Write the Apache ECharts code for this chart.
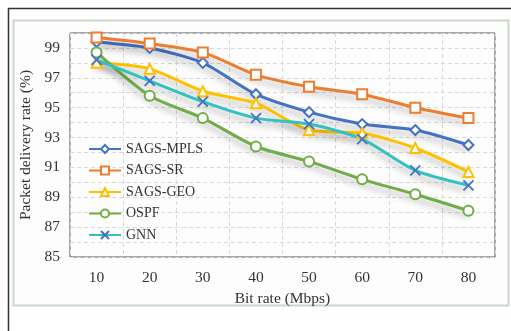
<!DOCTYPE html>
<html><head><meta charset="utf-8">
<script src="https://cdn.jsdelivr.net/npm/echarts@6/dist/echarts.min.js"></script>
<style>html,body{margin:0;padding:0;background:#fff}#c{width:511px;height:331px}</style>
</head><body><div id="c"></div>
<script>
const categories = ['10','20','30','40','50','60','70','80'];
const sagsMpls = [99.4, 99.0, 98.0, 95.9, 94.7, 93.9, 93.5, 92.5];
const sagsSr   = [99.7, 99.3, 98.7, 97.2, 96.4, 95.9, 95.0, 94.3];
const sagsGeo  = [98.0, 97.6, 96.1, 95.3, 93.5, 93.3, 92.3, 90.7];
const ospf     = [98.7, 95.8, 94.3, 92.4, 91.4, 90.2, 89.2, 88.1];
const gnn      = [98.2, 96.8, 95.4, 94.3, 93.9, 92.9, 90.8, 89.8];
const seriesNames = ['SAGS-MPLS','SAGS-SR','SAGS-GEO','OSPF','GNN'];
const xName = 'Bit rate (Mbps)';
const yName = 'Packet delivery rate (%)';

const FONT = '"Liberation Serif", "Times New Roman", serif';
function mk(name, data, color, symbol, markColor) {
  return {
    name, type: 'line', data, smooth: 0.25,
    symbol, symbolSize: 10,
    lineStyle: { color, width: 3, shadowColor: 'rgba(0,0,0,0.28)', shadowBlur: 6, shadowOffsetY: 5 },
    itemStyle: { color: markColor || color, borderColor: markColor || color, borderWidth: 1.8 },
    z: 3
  };
}
const chart = echarts.init(document.getElementById('c'), null, {renderer: 'canvas'});
chart.setOption({
  animation: false,
  backgroundColor: '#fff',
  graphic: [
    { type: 'line', shape: {x1: 8, y1: 8.5, x2: 511, y2: 8.5}, style: {stroke: '#333', lineWidth: 1.5}, z: -10 },
    { type: 'line', shape: {x1: 8.5, y1: 8, x2: 8.5, y2: 331}, style: {stroke: '#333', lineWidth: 1.5}, z: -10 },
    { type: 'rect', shape: {x: 13.5, y: 20.5, width: 495, height: 285}, style: {fill: '#fcfdfc', stroke: '#c9d8c9', lineWidth: 2}, z: -9 }
  ],
  grid: { left: 70, right: 16, top: 33, bottom: 74, show: true, borderColor: '#555', borderWidth: 1, backgroundColor: 'transparent' },
  legend: {
    orient: 'vertical', left: 83, top: 137, itemWidth: 32, itemHeight: 10, itemGap: 7.5,
    textStyle: { fontFamily: FONT, fontSize: 14, color: '#333' },
    data: seriesNames
  },
  xAxis: {
    type: 'category', data: categories, boundaryGap: true,
    name: xName, nameLocation: 'middle', nameGap: 27,
    nameTextStyle: { fontFamily: FONT, fontSize: 15.5, color: '#333' },
    axisLine: { show: false }, axisTick: { show: false },
    axisLabel: { fontFamily: FONT, fontSize: 15.5, color: '#333', margin: 13 },
    splitLine: { show: true, lineStyle: { color: '#d9d9d9', type: [4, 3] } }
  },
  yAxis: {
    type: 'value', min: 85, max: 100, interval: 1,
    name: yName, nameLocation: 'middle', nameGap: 33,
    nameTextStyle: { fontFamily: FONT, fontSize: 15.5, color: '#333' },
    axisLine: { show: false }, axisTick: { show: false },
    axisLabel: { fontFamily: FONT, fontSize: 15.5, color: '#333', margin: 10,
      formatter: v => (v % 2 === 1 && v < 100) ? String(v) : '' },
    splitLine: { show: true, interval: (i) => i % 2 === 0 && i < 15, lineStyle: { color: '#d9d9d9', type: [4, 3] } }
  },
  series: [
    mk(seriesNames[0], sagsMpls, '#4472C4', 'emptyDiamond'),
    mk(seriesNames[1], sagsSr, '#ED7D31', 'emptyRect'),
    mk(seriesNames[2], sagsGeo, '#FFC000', 'emptyTriangle'),
    mk(seriesNames[3], ospf, '#70AD47', 'emptyCircle'),
    mk(seriesNames[4], gnn, '#33C1C1', 'path://M0,0L10,10M10,0L0,10', '#4472C4')
  ]
});
</script></body></html>
